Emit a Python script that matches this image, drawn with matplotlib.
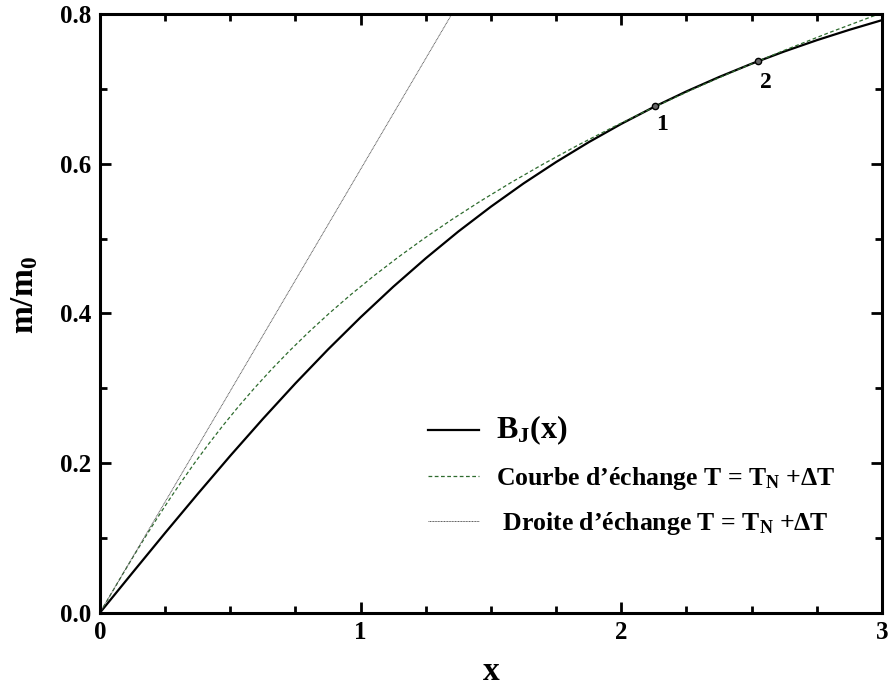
import matplotlib
matplotlib.use("Agg")
from matplotlib import pyplot as plt
from matplotlib.ticker import MultipleLocator

# B_J(x)
bj_x = [0.0, 0.125, 0.25, 0.375, 0.5, 0.625, 0.75, 0.875, 1.0, 1.125, 1.25, 1.375, 1.5,
        1.625, 1.75, 1.875, 2.0, 2.125, 2.25, 2.375, 2.5, 2.625, 2.75, 2.875, 3.0]
bj_y = [0.0, 0.0535, 0.1066, 0.1587, 0.2097, 0.2590, 0.3065, 0.3518, 0.3948, 0.4355,
        0.4736, 0.5094, 0.5426, 0.5736, 0.6022, 0.6287, 0.6532, 0.6758, 0.6966, 0.7158,
        0.7336, 0.7499, 0.7650, 0.7789, 0.7918]

# courbe d'echange (dashed green), read as (x, m) pairs
ech_x = [0.0, 0.0422, 0.0847, 0.1278, 0.1718, 0.2170, 0.2638, 0.3123, 0.3629, 0.4159,
         0.4716, 0.5303, 0.5923, 0.6579, 0.7274, 0.8011, 0.8793, 0.9623, 1.0505, 1.1440,
         1.2432, 1.3484, 1.4599, 1.5780, 1.7030, 1.8352, 1.9749, 2.1224, 2.2780, 2.4421,
         2.6148, 2.7965, 2.9875]
ech_y = [0.0, 0.025, 0.05, 0.075, 0.10, 0.125, 0.15, 0.175, 0.20, 0.225,
         0.25, 0.275, 0.30, 0.325, 0.35, 0.375, 0.40, 0.425, 0.45, 0.475,
         0.50, 0.525, 0.55, 0.575, 0.60, 0.625, 0.65, 0.675, 0.70, 0.725,
         0.75, 0.775, 0.80]

# droite d'echange (dotted)
dr_x = [0.0, 1.35]
dr_y = [0.0, 0.80]

# points 1 et 2
pt_x = [2.13, 2.525]
pt_y = [0.677, 0.737]
pt_lab = ["1", "2"]

plt.rcParams["font.family"] = ["Liberation Serif", "DejaVu Serif"]
plt.rcParams["font.weight"] = "bold"
plt.rcParams["mathtext.fontset"] = "custom"
plt.rcParams["mathtext.rm"] = "Liberation Serif:bold"
plt.rcParams["mathtext.bf"] = "Liberation Serif:bold"
plt.rcParams["mathtext.it"] = "Liberation Serif:bold"

fig = plt.figure(figsize=(8.88, 6.87), dpi=100)
ax = fig.add_axes([0.1126, 0.1082, 0.8806, 0.8714])

l1, = ax.plot(bj_x, bj_y, color="black", lw=1.6, label=r"B$_\mathrm{J}$(x)")
l2, = ax.plot(ech_x, ech_y, color="#2e6b2e", lw=0.9, linestyle=(0, (3, 2)),
              label="Courbe d\u2019\u00e9change T = T$_\mathrm{N}$ +\u0394T")
l3, = ax.plot(dr_x, dr_y, color="#555555", lw=0.7, linestyle=(0, (1, 0.6)),
              label=" Droite d\u2019\u00e9change T = T$_\mathrm{N}$ +\u0394T")
ax.plot(pt_x, pt_y, "o", ms=4.5, mfc="#666666", mec="black", mew=1.0, zorder=5)
offs = [(0.5, -6), (1, -8)]
for x, y, s, o in zip(pt_x, pt_y, pt_lab, offs):
    ax.annotate(s, (x, y), xytext=o, textcoords="offset points",
                ha="left", va="top", fontsize=17, fontweight="bold")

ax.set_xlim(0, 3)
ax.set_ylim(0, 0.8)
ax.xaxis.set_major_locator(MultipleLocator(1))
ax.xaxis.set_minor_locator(MultipleLocator(0.25))
ax.yaxis.set_major_locator(MultipleLocator(0.2))
ax.yaxis.set_minor_locator(MultipleLocator(0.1))
ax.yaxis.set_major_formatter(plt.FormatStrFormatter("%.1f"))
ax.tick_params(which="both", direction="in", top=True, right=True, width=2)
ax.tick_params(which="major", length=8, labelsize=18, pad=6)
ax.tick_params(which="minor", length=5)
for sp in ax.spines.values():
    sp.set_linewidth(2.2)

ax.set_xlabel("x", fontsize=24, fontweight="bold")
ax.xaxis.set_label_coords(0.5, -0.072)
ax.set_ylabel("m/m$_0$", fontsize=24, fontweight="bold")
ax.yaxis.set_label_coords(-0.077, 0.53)

leg = ax.legend(handles=[l1, l2, l3], loc="upper left", bbox_to_anchor=(0.419, 0.332),
                frameon=False, fontsize=18.5, handlelength=2.0, handletextpad=0.66,
                labelspacing=0.7, borderpad=0, borderaxespad=0)
leg.get_texts()[0].set_fontsize(23)

fig.savefig("out.png", dpi=100)
